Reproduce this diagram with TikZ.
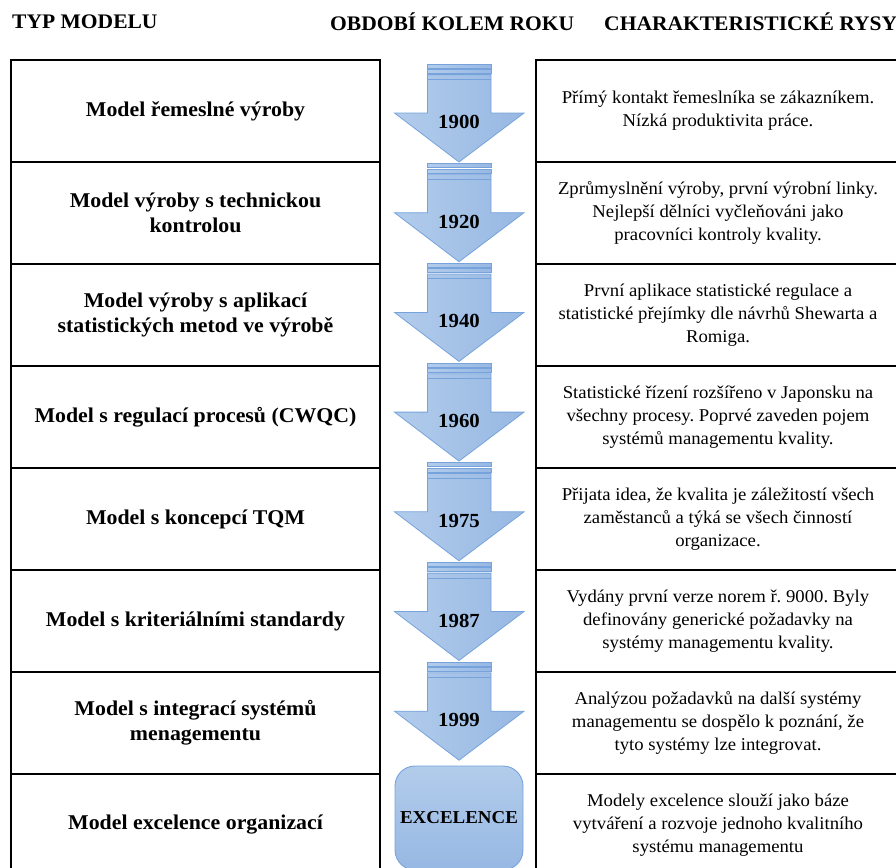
\documentclass[tikz,border=0pt]{standalone}
\usepackage{fontspec}
\setmainfont{Liberation Serif}[FakeStretch=1.04]
\begin{document}
\frenchspacing
\begin{tikzpicture}[x=1pt,y=-1pt,
  header/.style={anchor=west,inner sep=0pt,font=\bfseries\fontsize{20.7}{24}\selectfont},
  modelcell/.style={draw=black,line width=1.2pt,minimum width=369pt,minimum height=102pt,
    align=center,inner sep=0pt,font=\bfseries\fontsize{21}{25}\selectfont},
  featurecell/.style={draw=black,line width=1.2pt,minimum width=364pt,minimum height=102pt,
    align=center,inner sep=0pt,font=\fontsize{18}{23}\selectfont},
  yearlabel/.style={inner sep=0pt,font=\bfseries\fontsize{20}{24}\selectfont},
  arrowfill/.style={draw=arrowedge,line width=0.8pt,left color=arrowlight,right color=arrowdark,shading angle=90},
  excelbox/.style={draw=arrowedge,line width=0.9pt,rounded corners=20pt,top color=arrowlight,bottom color=arrowdark,
    minimum width=128pt,minimum height=104pt,inner sep=0pt,font=\bfseries\fontsize{18.2}{22}\selectfont}
]
\definecolor{arrowlight}{HTML}{B2CCEB}
\definecolor{arrowdark}{HTML}{97B8E3}
\definecolor{arrowedge}{HTML}{76A3DB}
\useasboundingbox (0,0) rectangle (896,867);
\clip (0,0) rectangle (896,867);

% column headings
\node[header] (h1) at (12,22) {TYP MODELU};
\node[header] (h2) at (330,22) {OBDOBÍ KOLEM ROKU};
\node[header] (h3) at (604,22) {CHARAKTERISTICKÉ RYSY};

% left column: model types
\node[modelcell] (m1) at (195.5,111) {Model řemeslné výroby};
\node[modelcell] (m2) at (195.5,213) {Model výroby s technickou\\kontrolou};
\node[modelcell] (m3) at (195.5,315) {Model výroby s aplikací\\statistických metod ve výrobě};
\node[modelcell] (m4) at (195.5,417) {Model s regulací procesů (CWQC)};
\node[modelcell] (m5) at (195.5,519) {Model s koncepcí TQM};
\node[modelcell] (m6) at (195.5,621) {Model s kriteriálními standardy};
\node[modelcell] (m7) at (195.5,723) {Model s integrací systémů\\menagementu};
\node[modelcell] (m8) at (195.5,825) {Model excelence organizací};

% right column: characteristic features
\node[featurecell] (f1) at (718,111) {Přímý kontakt řemeslníka se zákazníkem.\\Nízká produktivita práce.};
\node[featurecell] (f2) at (718,213) {Zprůmyslnění výroby, první výrobní linky.\\Nejlepší dělníci vyčleňováni jako\\pracovníci kontroly kvality.};
\node[featurecell] (f3) at (718,315) {První aplikace statistické regulace a\\statistické přejímky dle návrhů Shewarta a\\Romiga.};
\node[featurecell] (f4) at (718,417) {Statistické řízení rozšířeno v Japonsku na\\všechny procesy. Poprvé zaveden pojem\\systémů managementu kvality.};
\node[featurecell] (f5) at (718,519) {Přijata idea, že kvalita je záležitostí všech\\zaměstanců a týká se všech činností\\organizace.};
\node[featurecell] (f6) at (718,621) {Vydány první verze norem ř. 9000. Byly\\definovány generické požadavky na\\systémy managementu kvality.};
\node[featurecell] (f7) at (718,723) {Analýzou požadavků na další systémy\\managementu se dospělo k poznání, že\\tyto systémy lze integrovat.};
\node[featurecell] (f8) at (718,825) {Modely excelence slouží jako báze\\vytváření a rozvoje jednoho kvalitního\\systému managementu};

% middle column: striped down arrows with the years
\foreach \yr [count=\i from 0] in {1900,1920,1940,1960,1975,1987,1999} {
  \pgfmathsetmacro{\T}{64+99.7*\i}
  \fill[arrowfill] (427.5,\T) rectangle (491,\T+4);
  \fill[arrowfill] (427.5,\T+5.3) rectangle (491,\T+9.3);
  \path[arrowfill] (427.5,\T+10.6) -- (491,\T+10.6) -- (491,\T+49) -- (524,\T+49)
     -- (459,\T+98) -- (394.5,\T+49) -- (427.5,\T+49) -- cycle;
  \draw[arrowedge,line width=0.6pt] (427.5,\T+15.3) -- (491,\T+15.3);
  \node[yearlabel] (y\yr) at (459,\T+58) {\yr};
}

\node[excelbox] (exc) at (459,818) {EXCELENCE};
\end{tikzpicture}
\end{document}
